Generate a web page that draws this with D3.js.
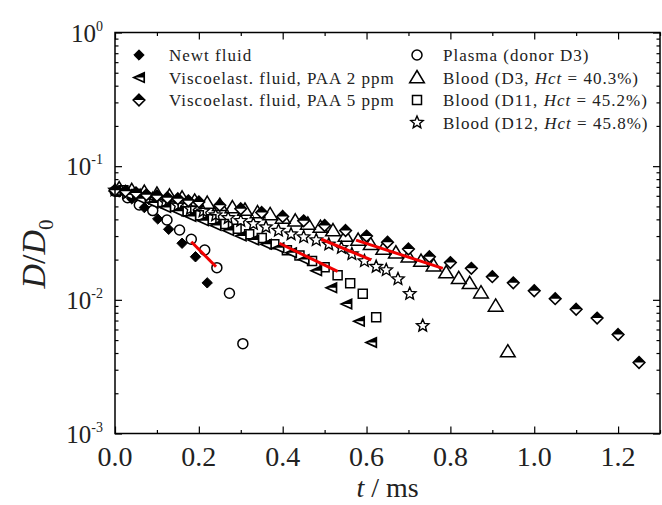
<!DOCTYPE html>
<html>
<head>
<meta charset="utf-8">
<script src="https://d3js.org/d3.v7.min.js"></script>
<style>
  body { margin: 0; background: #fff; }
  text { font-family: "Liberation Serif", "DejaVu Serif", serif; fill: #222; }
  .legend text { font-size: 17px; letter-spacing: 1px; }
</style>
</head>
<body>
<svg id="chart" width="662" height="505"></svg>
<script>
// ---- data ----
var tNewt = [0.01, 0.04, 0.07, 0.102, 0.128, 0.160, 0.192, 0.220];
var dNewt = [0.064, 0.057, 0.049, 0.0403, 0.0337, 0.0265, 0.0210, 0.0134];

var tPaa2 = [0.0, 0.03, 0.06, 0.09, 0.12, 0.15, 0.18, 0.21, 0.24, 0.27, 0.30, 0.33, 0.36, 0.39, 0.42, 0.45, 0.48, 0.516, 0.552, 0.582, 0.611];
var dPaa2 = [0.065, 0.061, 0.057, 0.053, 0.049, 0.046, 0.042, 0.039, 0.036, 0.033, 0.030, 0.028, 0.026, 0.0245, 0.0225, 0.020, 0.0165, 0.0123, 0.0093, 0.0069, 0.0048];

var tPaa5 = [0.0, 0.025, 0.05, 0.075, 0.10, 0.125, 0.15, 0.175, 0.20, 0.25, 0.30, 0.35, 0.40, 0.45, 0.50, 0.55, 0.60, 0.65, 0.70, 0.75, 0.80, 0.85, 0.90, 0.95, 1.00, 1.05, 1.10, 1.15, 1.20, 1.25];
var dPaa5 = [0.066, 0.065, 0.063, 0.061, 0.060, 0.058, 0.057, 0.055, 0.054, 0.051, 0.048, 0.045, 0.042, 0.039, 0.036, 0.033, 0.030, 0.027, 0.024, 0.021, 0.019, 0.0172, 0.0149, 0.0134, 0.0117, 0.0102, 0.0085, 0.0073, 0.0055, 0.0034];

var tPlasma = [0.0, 0.03, 0.058, 0.090, 0.124, 0.154, 0.182, 0.214, 0.243, 0.273, 0.305];
var dPlasma = [0.065, 0.058, 0.0513, 0.0465, 0.0396, 0.0333, 0.0284, 0.0236, 0.0174, 0.0112, 0.0047];

var tD3 = [0.01, 0.04, 0.07, 0.10, 0.13, 0.16, 0.19, 0.22, 0.25, 0.28, 0.31, 0.34, 0.37, 0.40, 0.43, 0.46, 0.49, 0.52, 0.55, 0.58, 0.61, 0.64, 0.67, 0.70, 0.73, 0.76, 0.79, 0.82, 0.846, 0.873, 0.908, 0.937];
var dD3 = [0.068, 0.066, 0.064, 0.062, 0.060, 0.058, 0.055, 0.053, 0.051, 0.049, 0.047, 0.045, 0.0435, 0.041, 0.039, 0.037, 0.035, 0.033, 0.030, 0.028, 0.026, 0.024, 0.0225, 0.021, 0.0195, 0.018, 0.016, 0.0145, 0.0133, 0.0113, 0.0090, 0.0041];

var tD11 = [0.02, 0.05, 0.08, 0.11, 0.14, 0.17, 0.20, 0.23, 0.26, 0.29, 0.32, 0.35, 0.38, 0.41, 0.44, 0.47, 0.50, 0.531, 0.561, 0.591, 0.623];
var dD11 = [0.066, 0.062, 0.058, 0.054, 0.050, 0.046, 0.043, 0.040, 0.037, 0.034, 0.031, 0.029, 0.026, 0.0235, 0.0215, 0.0195, 0.0175, 0.0153, 0.0133, 0.0111, 0.0074];

var tD12 = [0.0, 0.03, 0.06, 0.09, 0.12, 0.15, 0.18, 0.21, 0.24, 0.27, 0.30, 0.33, 0.36, 0.39, 0.42, 0.45, 0.48, 0.51, 0.54, 0.565, 0.595, 0.623, 0.647, 0.675, 0.703, 0.734];
var dD12 = [0.066, 0.063, 0.060, 0.057, 0.054, 0.051, 0.048, 0.046, 0.043, 0.041, 0.039, 0.037, 0.035, 0.033, 0.031, 0.0295, 0.028, 0.026, 0.0245, 0.022, 0.0195, 0.0177, 0.0167, 0.0143, 0.0111, 0.0064];

// red fit segments [start, end]
var fitT = [[0.182, 0.241], [0.392, 0.531], [0.492, 0.611], [0.575, 0.782]];
var fitD = [[0.0272, 0.0177], [0.0265, 0.0163], [0.0284, 0.0199], [0.0280, 0.0172]];

var xMajor = [0, 0.2, 0.4, 0.6, 0.8, 1.0, 1.2];
var xMinor = [0.1, 0.3, 0.5, 0.7, 0.9, 1.1, 1.3];
var yMajor = [1e-3, 1e-2, 1e-1, 1];
var yExp = ["-3", "-2", "-1", "0"];

var legendLeft = ["Newt fluid", "Viscoelast. fluid, PAA 2 ppm", "Viscoelast. fluid, PAA 5 ppm"];

// ---- scales ----
var pLeft = 115, pRight = 660, pTop = 32.5, pBottom = 433.5;
var x = d3.scaleLinear().domain([0, 1.3]).range([pLeft, pRight]);
var y = d3.scaleLog().domain([1e-3, 1]).range([pBottom, pTop]);

var svg = d3.select("#chart");

// y minor ticks (2..9 per decade)
var yMinor = [];
yMajor.slice(0, 3).forEach(function(d) {
  for (var k = 2; k < 10; k++) yMinor.push(d * k);
});

function pts(ts, ds) { return ts.map(function(t, i) { return [t, ds[i]]; }); }

// ---- marker shapes ----
function diamondPath(r) { return "M0," + (-r) + "L" + r + ",0L0," + r + "L" + (-r) + ",0Z"; }
function diamondTop(r) { return "M0," + (-r) + "L" + r + ",0L" + (-r) + ",0Z"; }
function leftTri(r) { return "M" + (-r) + ",0L" + r + "," + (-r * 0.9) + "L" + r + "," + (r * 0.9) + "Z"; }
function leftTriTop(r) { return "M" + (-r) + ",0L" + r + "," + (-r * 0.9) + "L" + r + ",0Z"; }
function upTri(r) { return "M0," + (-r) + "L" + (r * 1.05) + "," + (r * 0.75) + "L" + (-r * 1.05) + "," + (r * 0.75) + "Z"; }
function squarePath(r) { return "M" + (-r) + "," + (-r) + "H" + r + "V" + r + "H" + (-r) + "Z"; }
function starPath(r) {
  var p = [];
  for (var i = 0; i < 10; i++) {
    var a = -Math.PI / 2 + i * Math.PI / 5;
    var rr = i % 2 ? r * 0.45 : r;
    p.push([rr * Math.cos(a), rr * Math.sin(a)]);
  }
  return "M" + p.join("L") + "Z";
}

function drawMarker(g, kind) {
  if (kind === "newt") {
    g.append("path").attr("d", diamondPath(5.2)).attr("fill", "#000").attr("stroke", "#000").attr("stroke-width", 1);
  } else if (kind === "paa2") {
    g.append("path").attr("d", leftTri(5.2)).attr("fill", "#fff").attr("stroke", "#000").attr("stroke-width", 1.7);
    g.append("path").attr("d", leftTriTop(5.2)).attr("fill", "#000");
  } else if (kind === "paa5") {
    g.append("path").attr("d", diamondPath(5.8)).attr("fill", "#fff").attr("stroke", "#000").attr("stroke-width", 1.6);
    g.append("path").attr("d", diamondTop(5.8)).attr("fill", "#000");
  } else if (kind === "plasma") {
    g.append("circle").attr("r", 5).attr("fill", "none").attr("stroke", "#000").attr("stroke-width", 1.5);
  } else if (kind === "d3") {
    g.append("path").attr("d", upTri(7)).attr("fill", "none").attr("stroke", "#000").attr("stroke-width", 1.5);
  } else if (kind === "d11") {
    g.append("path").attr("d", squarePath(4.5)).attr("fill", "none").attr("stroke", "#000").attr("stroke-width", 1.5);
  } else if (kind === "d12") {
    g.append("path").attr("d", starPath(6.5)).attr("fill", "none").attr("stroke", "#000").attr("stroke-width", 1.4);
  }
}

function drawSeries(ts, ds, kind) {
  svg.append("g").selectAll("g")
    .data(pts(ts, ds))
    .enter().append("g")
    .attr("transform", function(d) { return "translate(" + x(d[0]) + "," + y(d[1]) + ")"; })
    .each(function() { drawMarker(d3.select(this), kind); });
}

drawSeries(tD3, dD3, "d3");
drawSeries(tD11, dD11, "d11");
drawSeries(tD12, dD12, "d12");
drawSeries(tPlasma, dPlasma, "plasma");
drawSeries(tNewt, dNewt, "newt");
drawSeries(tPaa2, dPaa2, "paa2");
drawSeries(tPaa5, dPaa5, "paa5");

// red fit lines
var line = d3.line().x(function(d) { return x(d[0]); }).y(function(d) { return y(d[1]); });
fitT.forEach(function(ts, i) {
  svg.append("path").attr("d", line(pts(ts, fitD[i])))
    .attr("fill", "none").attr("stroke", "#f00000").attr("stroke-width", 3);
});

// ---- axes (ticks inside, mirrored) ----
function tickStyle(g) {
  g.select(".domain").remove();
  g.selectAll("line").attr("stroke", "#000").attr("stroke-width", 1.2);
  g.selectAll("text").remove();
}
svg.append("g").attr("transform", "translate(0," + pBottom + ")")
  .call(d3.axisBottom(x).tickValues(xMajor).tickSize(-7)).call(tickStyle);
svg.append("g").attr("transform", "translate(0," + pBottom + ")")
  .call(d3.axisBottom(x).tickValues(xMinor).tickSize(-3.5)).call(tickStyle);
svg.append("g").attr("transform", "translate(0," + pTop + ")")
  .call(d3.axisTop(x).tickValues(xMajor).tickSize(-7)).call(tickStyle);
svg.append("g").attr("transform", "translate(0," + pTop + ")")
  .call(d3.axisTop(x).tickValues(xMinor).tickSize(-3.5)).call(tickStyle);
svg.append("g").attr("transform", "translate(" + pLeft + ",0)")
  .call(d3.axisLeft(y).tickValues(yMajor).tickSize(-7)).call(tickStyle);
svg.append("g").attr("transform", "translate(" + pLeft + ",0)")
  .call(d3.axisLeft(y).tickValues(yMinor).tickSize(-3.5)).call(tickStyle);
svg.append("g").attr("transform", "translate(" + pRight + ",0)")
  .call(d3.axisRight(y).tickValues(yMajor).tickSize(-7)).call(tickStyle);
svg.append("g").attr("transform", "translate(" + pRight + ",0)")
  .call(d3.axisRight(y).tickValues(yMinor).tickSize(-3.5)).call(tickStyle);

svg.append("rect").attr("x", pLeft).attr("y", pTop)
  .attr("width", pRight - pLeft).attr("height", pBottom - pTop)
  .attr("fill", "none").attr("stroke", "#000").attr("stroke-width", 1.5);

// tick labels
svg.append("g").selectAll("text")
  .data(xMajor).enter().append("text")
  .attr("x", function(d) { return x(d); })
  .attr("y", 466)
  .attr("text-anchor", "middle")
  .style("font-size", "28px")
  .text(function(d) { return d3.format(".1f")(d); });

var yl = svg.append("g").selectAll("text")
  .data(yMajor).enter().append("text")
  .attr("x", 103)
  .attr("y", function(d) { return y(d) + 9; })
  .attr("text-anchor", "end")
  .style("font-size", "25px");
yl.append("tspan").text("10");
yl.append("tspan").attr("dy", -11).style("font-size", "14px")
  .text(function(d, i) { return yExp[i]; });

// axis titles
var xt = svg.append("text").attr("x", (pLeft + pRight) / 2).attr("y", 497)
  .attr("text-anchor", "middle").style("font-size", "28px");
xt.append("tspan").style("font-style", "italic").text("t");
xt.append("tspan").text(" / ms");

var ytt = svg.append("text")
  .attr("transform", "translate(45,254) rotate(-90)")
  .attr("text-anchor", "middle").style("font-size", "34px");
ytt.append("tspan").style("font-style", "italic").text("D");
ytt.append("tspan").text("/");
ytt.append("tspan").style("font-style", "italic").text("D");
ytt.append("tspan").attr("dy", 8).style("font-size", "21px").text("0");

// ---- legend ----
var leg = svg.append("g").attr("class", "legend");
var leftKinds = ["newt", "paa2", "paa5"];
var rowY = [55, 77.5, 100, 122.5];
legendLeft.forEach(function(label, i) {
  var g = leg.append("g").attr("transform", "translate(139," + rowY[i] + ")");
  drawMarker(g, leftKinds[i]);
  leg.append("text").attr("x", 169).attr("y", rowY[i] + 6).text(label);
});
var rightKinds = ["plasma", "d3", "d11", "d12"];
var rightRows = [
  [{t: "Plasma (donor D3)"}],
  [{t: "Blood (D3, "}, {t: "Hct", i: true}, {t: " = 40.3%)"}],
  [{t: "Blood (D11, "}, {t: "Hct", i: true}, {t: " = 45.2%)"}],
  [{t: "Blood (D12, "}, {t: "Hct", i: true}, {t: " = 45.8%)"}]
];
rightRows.forEach(function(parts, i) {
  var g = leg.append("g").attr("transform", "translate(417," + rowY[i] + ")");
  drawMarker(g, rightKinds[i]);
  var tx = leg.append("text").attr("x", 443).attr("y", rowY[i] + 6);
  parts.forEach(function(p) {
    tx.append("tspan").style("font-style", p.i ? "italic" : "normal").text(p.t);
  });
});
</script>
</body>
</html>
